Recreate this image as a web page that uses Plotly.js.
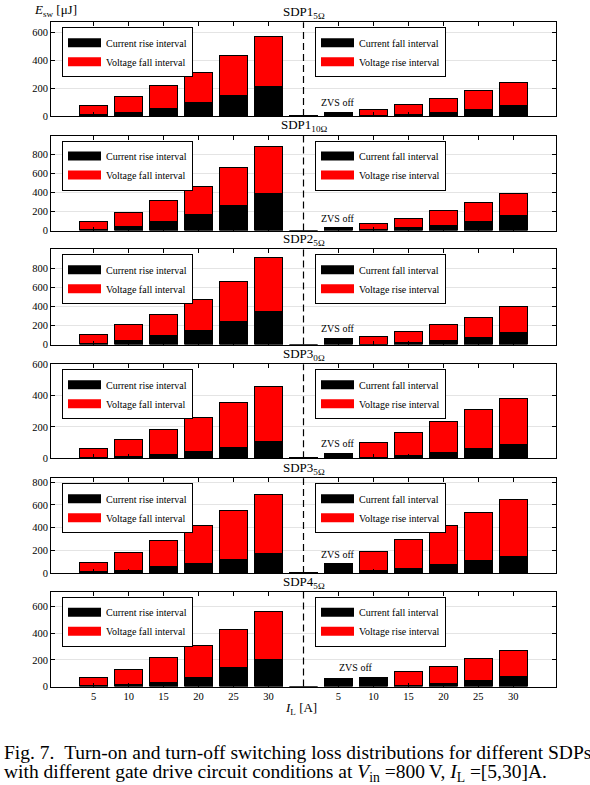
<!DOCTYPE html>
<html><head><meta charset="utf-8">
<script src="https://cdn.plot.ly/plotly-3.0.1.min.js"></script>
<style>html,body{margin:0;padding:0;background:#fff;}#chart{width:590px;height:785px;}</style>
</head><body><div id="chart"></div>
<script>
// ---------------- data ----------------
const currents = [5, 10, 15, 20, 25, 30];               // I_L [A]
const panelTitles = ['SDP1<sub>5Ω</sub>', 'SDP1<sub>10Ω</sub>', 'SDP2<sub>5Ω</sub>',
                     'SDP3<sub>0Ω</sub>', 'SDP3<sub>5Ω</sub>', 'SDP4<sub>5Ω</sub>'];

// turn-on: current rise interval (black) / voltage fall interval (red)  [µJ]
const sdp1_5_onCurrent  = [8, 24, 55, 95, 147, 209];
const sdp1_5_onVoltage  = [67, 114, 161, 216, 285, 356];
const sdp1_10_onCurrent = [15, 46, 98, 172, 266, 389];
const sdp1_10_onVoltage = [83, 146, 217, 294, 396, 497];
const sdp2_5_onCurrent  = [14, 38, 91, 143, 237, 342];
const sdp2_5_onVoltage  = [87, 168, 227, 328, 423, 573];
const sdp3_0_onCurrent  = [3, 10, 25, 44, 70, 106];
const sdp3_0_onVoltage  = [61, 107, 157, 217, 285, 350];
const sdp3_5_onCurrent  = [12, 24, 53, 85, 121, 171];
const sdp3_5_onVoltage  = [82, 161, 235, 330, 426, 520];
const sdp4_5_onCurrent  = [5, 12, 32, 65, 145, 200];
const sdp4_5_onVoltage  = [65, 118, 183, 245, 285, 360];

// turn-off: current fall interval (black) / voltage rise interval (red)  [µJ]
const sdp1_5_offCurrent  = [25, 5, 12, 24, 47, 76];
const sdp1_5_offVoltage  = [0, 38, 71, 102, 138, 164];
const sdp1_10_offCurrent = [25, 7, 28, 56, 95, 154];
const sdp1_10_offVoltage = [3, 63, 102, 151, 203, 238];
const sdp2_5_offCurrent  = [66, 5, 17, 38, 70, 126];
const sdp2_5_offVoltage  = [0, 82, 123, 168, 209, 269];
const sdp3_0_offCurrent  = [33, 4, 16, 36, 61, 85];
const sdp3_0_offVoltage  = [0, 96, 146, 199, 249, 294];
const sdp3_5_offCurrent  = [82, 18, 41, 71, 106, 144];
const sdp3_5_offVoltage  = [0, 173, 250, 344, 429, 503];
const sdp4_5_offCurrent  = [62, 58, 10, 22, 47, 72];
const sdp4_5_offVoltage  = [0, 12, 105, 128, 165, 200];

// empty separator bar between turn-on and turn-off groups (near zero)
const separatorBar = [4, 6, 6, 3, 5, 4];

// ---------------- assemble ----------------
const panels = [
  {title: panelTitles[0], onC: sdp1_5_onCurrent,  onV: sdp1_5_onVoltage,  offC: sdp1_5_offCurrent,  offV: sdp1_5_offVoltage,  sep: separatorBar[0]},
  {title: panelTitles[1], onC: sdp1_10_onCurrent, onV: sdp1_10_onVoltage, offC: sdp1_10_offCurrent, offV: sdp1_10_offVoltage, sep: separatorBar[1]},
  {title: panelTitles[2], onC: sdp2_5_onCurrent,  onV: sdp2_5_onVoltage,  offC: sdp2_5_offCurrent,  offV: sdp2_5_offVoltage,  sep: separatorBar[2]},
  {title: panelTitles[3], onC: sdp3_0_onCurrent,  onV: sdp3_0_onVoltage,  offC: sdp3_0_offCurrent,  offV: sdp3_0_offVoltage,  sep: separatorBar[3]},
  {title: panelTitles[4], onC: sdp3_5_onCurrent,  onV: sdp3_5_onVoltage,  offC: sdp3_5_offCurrent,  offV: sdp3_5_offVoltage,  sep: separatorBar[4]},
  {title: panelTitles[5], onC: sdp4_5_onCurrent,  onV: sdp4_5_onVoltage,  offC: sdp4_5_offCurrent,  offV: sdp4_5_offVoltage,  sep: separatorBar[5]}
];

const W = 590, H = 785;
const ML = 51, MR = 34;
const plotW = W - ML - MR;
// panel pixel extents [top, bottom]
const panelPx = [[22.3,116],[135.5,230.6],[249.3,344.6],[364.3,458.3],[478.3,573],[591.8,686.6]];
const yMax = [670, 998, 998, 600, 835, 710];

const n = currents.length;
const onX = currents.map((c, k) => k + 1);
const gapX = n + 1;
const offX = currents.map((c, k) => n + 2 + k);
const tickVals = [...onX, ...offX];
const tickText = [...currents.map(String), ...currents.map(String)];

const SERIF = "'Liberation Serif', 'Times New Roman', Times, serif";
const RED = '#ff0000', BLACK = '#000000';
const py = px => 1 - px / H;
const pxX = px => (px - ML) / plotW;

const traces = [];
const layout = {
  width: W, height: H,
  margin: {l: ML, r: MR, t: 0, b: 0, pad: 0},
  paper_bgcolor: '#fff', plot_bgcolor: '#fff',
  barmode: 'stack',
  font: {family: SERIF, size: 10, color: '#000'},
  annotations: [], shapes: []
};

panels.forEach((p, i) => {
  const k = i + 1;
  const xa = 'x' + (k === 1 ? '' : k), ya = 'y' + (k === 1 ? '' : k);
  const xkey = 'xaxis' + (k === 1 ? '' : k), ykey = 'yaxis' + (k === 1 ? '' : k);
  const legL = 'legend' + (2 * i + 1 === 1 ? '' : (2 * i + 1));
  const legR = 'legend' + (2 * i + 2);

  traces.push({
    type: 'bar', x: [...onX, gapX, ...offX], y: [...p.onC, p.sep, ...p.offC],
    xaxis: xa, yaxis: ya, width: 0.8, showlegend: false,
    marker: {color: BLACK, line: {color: BLACK, width: 1}}, hoverinfo: 'skip'
  });
  traces.push({
    type: 'bar', x: [...onX, ...offX], y: [...p.onV, ...p.offV],
    xaxis: xa, yaxis: ya, width: 0.8, showlegend: false,
    marker: {color: RED, line: {color: BLACK, width: 1}}, hoverinfo: 'skip'
  });
  // legend entries
  const legItems = [
    [legL, 'Current rise interval', BLACK], [legL, 'Voltage fall interval', RED],
    [legR, 'Current fall interval', BLACK], [legR, 'Voltage rise interval', RED]
  ];
  legItems.forEach(([lg, name, col]) => {
    traces.push({type: 'scatter', mode: 'lines', x: [null], y: [null], xaxis: xa, yaxis: ya,
      name: name, legend: lg, showlegend: true, line: {color: col, width: 9}, hoverinfo: 'skip'});
  });
  const top = panelPx[i][0], bot = panelPx[i][1];
  const legCommon = {yanchor: 'top', xanchor: 'left', bgcolor: '#fff', bordercolor: '#000', borderwidth: 1,
    font: {family: SERIF, size: 10, color: '#000'}, itemwidth: 33, tracegroupgap: 0, traceorder: 'normal'};
  layout[legL] = Object.assign({x: pxX(62), y: py(top + 5)}, legCommon);
  layout[legR] = Object.assign({x: pxX(315), y: py(top + 5)}, legCommon);

  layout[xkey] = {
    domain: [0, 1], anchor: ya, range: [-0.22, 14.22],
    tickmode: 'array', tickvals: tickVals, ticktext: tickText,
    showticklabels: k === 6, ticks: 'inside', ticklen: 4, tickcolor: '#000',
    showline: true, mirror: 'ticks', linecolor: '#000', linewidth: 1,
    showgrid: false, zeroline: false, fixedrange: true,
    tickfont: {family: SERIF, size: 10.5, color: '#000'}
  };
  layout[ykey] = {
    domain: [py(bot), py(top)], anchor: xa, range: [0, yMax[i]],
    tickmode: 'linear', tick0: 0, dtick: 200,
    ticks: 'inside', ticklen: 4, tickcolor: '#000',
    showline: true, mirror: 'ticks', linecolor: '#000', linewidth: 1,
    showgrid: true, gridcolor: '#e4e4e4', gridwidth: 1, zeroline: false, fixedrange: true,
    tickfont: {family: SERIF, size: 10.5, color: '#000'}
  };
  // dashed separator between turn-on and turn-off
  layout.shapes.push({type: 'line', xref: xa, yref: ya + ' domain', x0: gapX, x1: gapX, y0: 0, y1: 1,
    line: {color: '#000', width: 1.2, dash: '7px,4px'}});
  // panel title
  layout.annotations.push({xref: 'paper', yref: 'paper', x: 0.5, y: py(top + 1), xanchor: 'center', yanchor: 'bottom',
    text: p.title, showarrow: false, font: {family: SERIF, size: 13, color: '#000'}});
  // ZVS off label
  const zvsX = k === 6 ? offX[0] + 0.5 : offX[0];
  const tot0 = p.offC[0] + p.offV[0];
  const zvsY = k === 6 ? Math.max(tot0, p.offC[1] + p.offV[1]) : tot0;
  layout.annotations.push({xref: xa, yref: ya, x: zvsX, y: zvsY, xanchor: 'center', yanchor: 'bottom', yshift: 2,
    text: 'ZVS off', showarrow: false, font: {family: SERIF, size: 10, color: '#000'}});
});

// axis labels
layout.annotations.push({xref: 'paper', yref: 'paper', x: pxX(32), y: py(11), xanchor: 'left', yanchor: 'middle',
  text: '<i>E</i><sub>sw</sub> [μJ]', showarrow: false, font: {family: SERIF, size: 13, color: '#000'}});
layout.annotations.push({xref: 'paper', yref: 'paper', x: pxX(301), y: py(708), xanchor: 'center', yanchor: 'middle',
  text: '<i>I</i><sub>L</sub> [A]', showarrow: false, font: {family: SERIF, size: 13, color: '#000'}});
// caption
layout.annotations.push({xref: 'paper', yref: 'paper', x: pxX(2), y: py(752), xanchor: 'left', yanchor: 'middle',
  text: 'Fig. 7.\u00a0\u00a0Turn-on and turn-off switching loss distributions for different SDPs',
  showarrow: false, font: {family: SERIF, size: 19.5, color: '#000'}});
layout.annotations.push({xref: 'paper', yref: 'paper', x: pxX(2), y: py(773), xanchor: 'left', yanchor: 'middle',
  text: 'with different gate drive circuit conditions at <i>V</i><sub>in</sub> =800\u2009V, <i>I</i><sub>L</sub> =[5,30]A.',
  showarrow: false, font: {family: SERIF, size: 19.5, color: '#000'}});

Plotly.newPlot('chart', traces, layout, {staticPlot: true, displayModeBar: false});
</script>
</body></html>
